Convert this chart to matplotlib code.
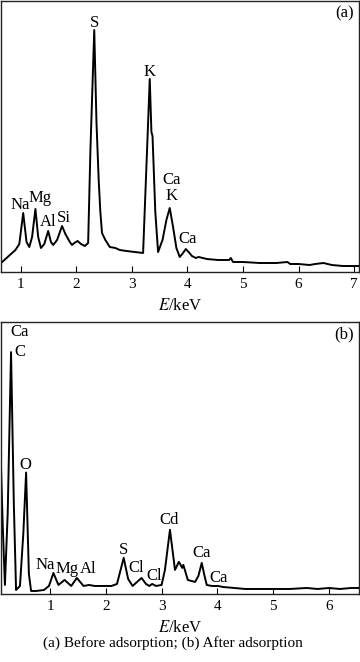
import matplotlib as mpl
import matplotlib.pyplot as plt

# spectrum (a): before adsorption
energy_a = [0.64, 0.70, 0.80, 0.90, 0.97, 1.04, 1.10, 1.15, 1.20, 1.26, 1.31, 1.36,
            1.42, 1.49, 1.54, 1.58, 1.65, 1.74, 1.80, 1.88, 1.92, 1.96, 2.02, 2.08,
            2.15, 2.21, 2.25, 2.32, 2.36, 2.40, 2.43, 2.46, 2.52, 2.60, 2.70, 2.78,
            2.90, 3.05, 3.20, 3.27, 3.32, 3.35, 3.37, 3.42, 3.47, 3.55,
            3.62, 3.68, 3.74, 3.80, 3.86, 3.92, 3.97, 4.02, 4.08, 4.15, 4.20, 4.35,
            4.55, 4.75, 4.78, 4.82, 5.00, 5.30, 5.60, 5.80, 5.85, 6.00, 6.20, 6.30,
            6.45, 6.60, 6.80, 7.00, 7.09]
counts_a = [9, 12, 17, 22, 28, 59, 30, 25, 35, 63, 35, 24,
            28, 41, 30, 27, 32, 46, 38, 30, 27, 29, 31, 28,
            26, 29, 120, 242, 150, 92, 60, 39, 32, 25, 24, 22,
            21, 20, 19, 120, 193, 140, 136, 60, 20, 32,
            52, 64, 45, 24, 15, 19, 23, 20, 16, 14, 15, 13,
            12, 12, 14, 10, 10, 9, 9, 10, 8, 8, 7, 8,
            9, 7, 6, 6, 6]
labels_a = ["Na", "Mg", "Al", "Si", "S", "K", "Ca\nK", "Ca"]
label_x_a = [0.98, 1.34, 1.49, 1.77, 2.32, 3.32, 3.72, 4.00]
label_y_a = [67, 74, 50, 54, 249, 200, 84, 33]

# spectrum (b): after adsorption
energy_b = [0.12, 0.15, 0.19, 0.24, 0.30, 0.35, 0.39, 0.46, 0.52, 0.57, 0.62, 0.66,
            0.75, 0.89, 0.98, 1.06, 1.15, 1.26, 1.38, 1.48, 1.60, 1.70, 1.80, 1.95,
            2.10, 2.20, 2.32, 2.40, 2.48, 2.56, 2.64, 2.72, 2.78, 2.83, 2.90, 3.00,
            3.06, 3.15, 3.24, 3.31, 3.37, 3.39, 3.47, 3.60, 3.66, 3.72, 3.77, 3.81,
            3.90, 4.01, 4.10, 4.30, 4.50, 4.80, 5.00, 5.30, 5.60, 5.80, 6.00, 6.20,
            6.40, 6.54]
counts_b = [127, 70, 9, 80, 241, 90, 4, 8, 60, 121, 20, 3,
            3, 4, 8, 21, 9, 14, 8, 16, 8, 9, 8, 8,
            8, 10, 36, 15, 8, 12, 16, 10, 8, 10, 8, 9,
            24, 64, 24, 32, 26, 29, 14, 12, 18, 31, 18, 9,
            8, 8, 7, 6, 5, 5, 5, 5, 6, 5, 6, 5,
            6, 6]
labels_b = ["Ca", "C", "O", "Na", "Mg", "Al", "S", "Cl", "Cl", "Cd", "Ca", "Ca"]
label_x_b = [0.46, 0.46, 0.55, 0.91, 1.31, 1.68, 2.32, 2.55, 2.86, 3.13, 3.72, 4.03]
label_y_b = [261, 241, 129, 29, 25, 25, 44, 26, 18, 74, 41, 16]

ticks_a = [1, 2, 3, 4, 5, 6, 7]
ticks_b = [1, 2, 3, 4, 5, 6]

mpl.rcParams.update({
    "font.family": "Liberation Serif",
    "font.size": 11,
    "mathtext.fontset": "stix",
})

fig = plt.figure(figsize=(3.6, 6.62), dpi=100)
ax_a = fig.add_axes([1 / 360, 390 / 662, 358 / 360, 271 / 662])
ax_b = fig.add_axes([1 / 360, 68 / 662, 358 / 360, 272 / 662])

panels = [
    (ax_a, energy_a, counts_a, labels_a, label_x_a, label_y_a, ticks_a, (0.64, 7.09), "(a)"),
    (ax_b, energy_b, counts_b, labels_b, label_x_b, label_y_b, ticks_b, (0.12, 6.54), "(b)"),
]

for ax, e, c, labs, lx, ly, ticks, xlim, tag in panels:
    ax.plot(e, c, color="black", lw=1.4)
    for s, x, y in zip(labs, lx, ly):
        ax.text(x, y, s, ha="center", va="center", fontsize=12, linespacing=1.05)
    ax.text(0.985, 0.953, tag, transform=ax.transAxes, ha="right", va="center", fontsize=12)
    ax.set_xlim(*xlim)
    ax.set_ylim(0, 271)
    ax.set_xticks(ticks)
    ax.set_yticks([])
    ax.tick_params(axis="x", direction="in", length=4, width=0.8, pad=4, labelsize=11)
    ax.set_xlabel(r"$E$/keV", fontsize=12, labelpad=5)
    for sp in ax.spines.values():
        sp.set_linewidth(1.0)
        sp.set_color("#222222")

fig.text(0.48, 19 / 662, "(a) Before adsorption; (b) After adsorption",
         ha="center", va="center", fontsize=11)

fig.savefig("out.png", dpi=100)
